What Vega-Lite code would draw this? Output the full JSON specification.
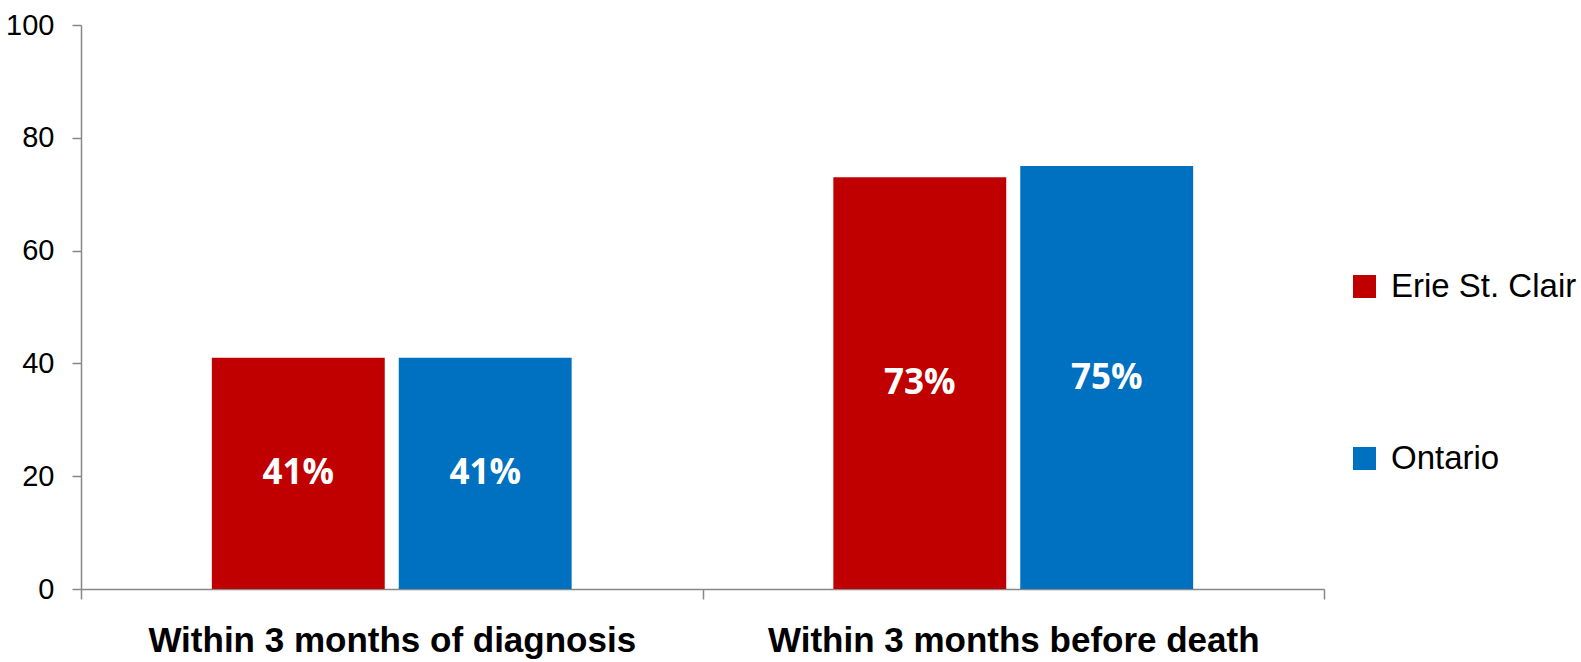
{
  "$schema": "https://vega.github.io/schema/vega-lite/v6.json",
  "autosize": "none",
  "width": 1243,
  "height": 564,
  "padding": {"left": 81, "top": 25, "right": 257, "bottom": 73},
  "background": "white",
  "config": {
    "view": {"stroke": null},
    "font": "Liberation Sans"
  },
  "data": {
    "values": [
      {"timing": "Within 3 months of diagnosis", "region": "Erie St. Clair", "value": 41, "label": "41%"},
      {"timing": "Within 3 months of diagnosis", "region": "Ontario", "value": 41, "label": "41%"},
      {"timing": "Within 3 months before death", "region": "Erie St. Clair", "value": 73, "label": "73%"},
      {"timing": "Within 3 months before death", "region": "Ontario", "value": 75, "label": "75%"}
    ]
  },
  "encoding": {
    "x": {
      "field": "timing",
      "type": "nominal",
      "sort": null,
      "title": null,
      "scale": {"paddingInner": 0, "paddingOuter": 0},
      "axis": {
        "labelAngle": 0,
        "labelFont": "Liberation Sans",
        "labelFontSize": 35,
        "labelFontWeight": "bold",
        "labelColor": "#000000",
        "labelPadding": 24,
        "labelBaseline": "top",
        "labelLimit": 800,
        "domainColor": "#878787",
        "domainWidth": 1.5,
        "tickColor": "#878787",
        "tickWidth": 1.5,
        "tickSize": 10,
        "tickBand": "extent",
        "grid": false
      }
    },
    "xOffset": {
      "field": "region",
      "type": "nominal",
      "sort": ["Erie St. Clair", "Ontario"],
      "scale": {"paddingInner": 0.075, "paddingOuter": 0.7}
    }
  },
  "layer": [
    {
      "mark": {"type": "bar"},
      "encoding": {
        "y": {
          "field": "value",
          "type": "quantitative",
          "title": null,
          "scale": {"domain": [0, 100], "nice": false, "zero": true},
          "axis": {
            "values": [0, 20, 40, 60, 80, 100],
            "labelFont": "Liberation Sans",
            "labelFontSize": 29,
            "labelColor": "#000000",
            "labelPadding": 18,
            "domainColor": "#878787",
            "domainWidth": 1.5,
            "tickColor": "#878787",
            "tickWidth": 1.5,
            "tickSize": 9,
            "grid": false
          }
        },
        "color": {
          "field": "region",
          "type": "nominal",
          "sort": ["Erie St. Clair", "Ontario"],
          "scale": {"domain": ["Erie St. Clair", "Ontario"], "range": ["#C00000", "#0070C0"]},
          "legend": {
            "title": null,
            "orient": "none",
            "legendX": 1267,
            "legendY": 245,
            "symbolType": "square",
            "symbolSize": 529,
            "symbolStrokeWidth": 0,
            "labelFont": "Liberation Sans",
            "labelFontSize": 33,
            "labelColor": "#000000",
            "labelOffset": 10,
            "rowPadding": 138,
            "labelLimit": 400
          }
        }
      }
    },
    {
      "mark": {"type": "text", "color": "white", "font": "Open Sans", "fontWeight": "bold", "fontSize": 35, "baseline": "middle", "align": "center"},
      "encoding": {
        "y": {
          "field": "value",
          "type": "quantitative",
          "scale": {"domain": [0, 200], "nice": false, "zero": true},
          "axis": null
        },
        "text": {"field": "label"}
      }
    }
  ],
  "resolve": {"scale": {"y": "independent"}}
}
